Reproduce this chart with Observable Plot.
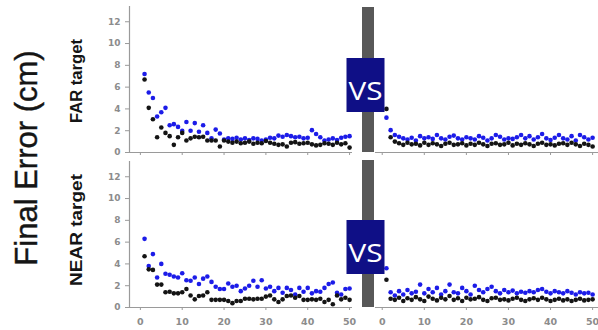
<!DOCTYPE html>
<html>
<head>
<meta charset="utf-8">
<script src="https://cdn.jsdelivr.net/npm/d3@7"></script>
<script src="https://cdn.jsdelivr.net/npm/@observablehq/plot@0.6"></script>
<style>
  html, body { margin: 0; padding: 0; background: #fff; }
  #chart { position: relative; width: 598px; height: 330px; overflow: hidden; background: #fff; }
  #chart > svg { position: absolute; }
  #overlay { position: absolute; left: 0; top: 0; pointer-events: none; }
</style>
</head>
<body>
<div id="chart"></div>
<script>
// Trial numbers 1..50
const trials = d3.range(1, 51);

// FAR target, before (left) — blue and black series
const farBeforeBlue = [7.2, 5.5, 5.0, 3.3, 3.7, 4.1, 2.5, 2.6, 2.35, 2.0,
  2.8, 2.0, 2.7, 1.9, 2.5, 1.8, 1.3, 2.1, 1.75, 1.2,
  1.3, 1.25, 1.35, 1.2, 1.3, 1.15, 1.3, 1.25, 1.1, 1.2,
  1.35, 1.3, 1.55, 1.45, 1.6, 1.5, 1.4, 1.45, 1.3, 1.35,
  2.05, 1.7, 1.4, 1.1, 1.2, 1.3, 1.15, 1.35, 1.45, 1.5];
const farBeforeBlack = [6.7, 4.1, 3.05, 1.4, 2.3, 1.8, 1.5, 0.7, 1.4, 1.8,
  1.1, 1.3, 1.45, 1.4, 1.45, 1.1, 1.1, 1.1, 0.55, 1.1,
  1.0, 0.9, 1.0, 0.85, 0.9, 1.0, 0.8, 0.9, 0.85, 1.05,
  0.9, 0.8, 0.7, 0.75, 0.55, 0.9, 0.95, 0.8, 0.85, 0.9,
  0.75, 0.65, 0.7, 0.85, 0.8, 0.7, 0.9, 0.75, 0.85, 0.45];

// FAR target, after (right)
const farAfterBlue = [3.2, 2.05, 1.6, 1.45, 1.3, 1.2, 1.35, 1.1, 1.5, 1.3,
  1.4, 1.25, 1.6, 1.3, 1.2, 1.45, 1.55, 1.3, 1.2, 1.4,
  1.3, 1.2, 1.5, 1.35, 1.1, 1.3, 1.6, 1.45, 1.2, 1.3,
  1.25, 1.4, 1.6, 1.3, 1.5, 1.2, 1.4, 1.7, 1.3, 1.15,
  1.35, 1.6, 1.3, 1.2, 1.5, 1.1, 1.6, 1.4, 1.2, 1.35];
const farAfterBlack = [4.0, 1.4, 1.0, 0.85, 0.7, 0.9, 0.75, 0.8, 0.65, 0.9,
  0.7, 0.85, 0.75, 0.6, 0.8, 0.9, 0.7, 0.75, 0.85, 0.65,
  0.8, 0.7, 0.9, 0.75, 0.6, 0.8, 0.85, 0.7, 0.75, 0.9,
  0.65, 0.8, 0.7, 0.85, 0.75, 0.6, 0.8, 0.9, 0.7, 0.75,
  0.65, 0.8, 0.85, 0.7, 0.9, 0.75, 0.6, 0.8, 0.7, 0.55];

// NEAR target, before (left)
const nearBeforeBlue = [6.3, 3.8, 4.9, 2.75, 4.0, 3.1, 3.0, 2.85, 2.75, 3.15,
  2.5, 2.45, 2.75, 2.15, 2.65, 2.85, 2.35, 1.9, 1.7, 1.7,
  2.2, 1.9, 2.0, 1.5, 1.75, 2.0, 2.45, 1.9, 2.5, 1.75,
  1.9, 1.5, 1.8, 1.35, 1.8, 1.6, 1.2, 1.8, 1.45, 1.8,
  1.3, 1.5, 1.45, 1.8, 2.15, 2.3, 1.35, 1.2, 1.7, 1.75];
const nearBeforeBlack = [4.7, 3.5, 3.45, 2.1, 2.1, 1.4, 1.45, 1.3, 1.3, 1.4,
  1.7, 1.1, 0.75, 1.05, 1.1, 1.4, 0.7, 0.7, 0.7, 0.7,
  0.6, 0.4, 0.6, 0.6, 0.8, 0.8, 0.75, 0.8, 0.8, 1.0,
  1.1, 0.75, 0.5, 0.75, 1.05, 1.1, 0.9, 1.05, 0.7, 0.7,
  0.75, 0.7, 0.8, 0.5, 0.7, 0.3, 1.1, 0.75, 0.9, 0.7];

// NEAR target, after (right)
const nearAfterBlue = [3.6, 1.4, 1.1, 1.5, 1.2, 1.6, 1.3, 1.45, 2.1, 1.3,
  1.7, 1.4, 1.8, 1.2, 1.5, 2.1, 1.4, 1.3, 1.8, 1.5,
  1.2, 2.0, 1.6, 1.4, 1.7, 1.9, 1.5, 1.3, 1.6, 1.4,
  1.55, 1.3, 1.45, 1.35, 1.5, 1.4, 1.6, 1.7, 1.45, 1.3,
  1.5, 1.4, 1.3, 1.5, 1.35, 1.2, 1.4, 1.3, 1.35, 1.2];
const nearAfterBlack = [2.55, 0.8, 0.7, 0.9, 0.6, 0.85, 0.7, 0.95, 0.75, 0.6,
  1.0, 0.8, 0.65, 0.9, 0.75, 1.05, 0.7, 0.85, 0.6, 0.9,
  0.75, 0.8, 0.95, 0.7, 0.6, 0.85, 0.9, 0.7, 0.75, 0.65,
  0.8, 0.9, 0.7, 0.6, 0.75, 0.85, 0.7, 0.9, 0.75, 0.6,
  0.7, 0.8, 0.65, 0.75, 0.6, 0.7, 0.8, 0.65, 0.7, 0.75];

// Axis ticks and labels
const xTicks = [0, 10, 20, 30, 40, 50];
const yTicks = [0, 2, 4, 6, 8, 10, 12];
const rowLabels = ["FAR target", "NEAR target"];
const yTitle = "Final Error (cm)";
const vsLabel = "VS";

const BLUE = "#1c1ce8";
const BLACK = "#141414";
const AXIS = "#9a9a9a";
const TICK_TEXT = "#8c8c8c";
const tickFont = "DejaVu Sans, sans-serif";

const chart = document.getElementById("chart");

function rows(blue, black) {
  return {
    blue: trials.map((t, i) => ({trial: t, err: blue[i]})),
    black: trials.map((t, i) => ({trial: t, err: black[i]}))
  };
}

// One scatter panel; side = "left" | "right", bottom = show x tick labels
function panel({blue, black, side, bottom, top}) {
  const d = rows(blue, black);
  const left = side === "left";
  const xDomain = left ? [-2.6, 50.7] : [-1.6, 51.4];
  const width = left ? 360 : 238;
  const marks = [
    Plot.ruleY([0], {x1: xDomain[0], x2: xDomain[1], stroke: AXIS, strokeWidth: 1.2}),
    Plot.axisX({
      ticks: xTicks, tickSize: 3, tickPadding: 8, stroke: AXIS, label: null,
      tickFormat: bottom ? (v) => String(v) : () => "",
      fill: TICK_TEXT, fontSize: 9.5, fontWeight: "bold", fontFamily: tickFont
    })
  ];
  if (left) {
    marks.push(
      Plot.ruleX([xDomain[0]], {y1: 0, y2: 13.4, stroke: AXIS, strokeWidth: 1.2}),
      Plot.axisY({
        ticks: yTicks, tickSize: 4, tickPadding: 5, stroke: AXIS, label: null,
        fill: TICK_TEXT, fontSize: 9, fontWeight: "bold", fontFamily: tickFont
      })
    );
  }
  marks.push(
    Plot.dot(d.blue, {x: "trial", y: "err", r: 2.3, fill: BLUE, stroke: "none"}),
    Plot.dot(d.black, {x: "trial", y: "err", r: 2.3, fill: BLACK, stroke: "none"})
  );
  const svg = Plot.plot({
    width,
    height: bottom ? 175 : 158,
    marginLeft: left ? 129 : 15,
    marginRight: left ? 8 : 0,
    marginTop: 6,
    marginBottom: bottom ? 23 : 6,
    x: {domain: xDomain, axis: null},
    y: {domain: [0, 13.4], axis: null},
    style: {background: "transparent", overflow: "visible"},
    marks
  });
  svg.style.left = (left ? 0 : 360) + "px";
  svg.style.top = top + "px";
  chart.appendChild(svg);
}

panel({blue: farBeforeBlue, black: farBeforeBlack, side: "left", bottom: false, top: 0});
panel({blue: farAfterBlue, black: farAfterBlack, side: "right", bottom: false, top: 0});
panel({blue: nearBeforeBlue, black: nearBeforeBlack, side: "left", bottom: true, top: 155});
panel({blue: nearAfterBlue, black: nearAfterBlack, side: "right", bottom: true, top: 155});

// Titles, divider bars and "VS" badges drawn on top
const ns = "http://www.w3.org/2000/svg";
const overlay = d3.select(chart).append("svg")
  .attr("id", "overlay")
  .attr("xmlns", ns)
  .attr("width", 598).attr("height", 330);

overlay.append("text")
  .attr("transform", "translate(37,158) rotate(-90)")
  .attr("text-anchor", "middle")
  .attr("font-family", "Liberation Sans, Arial, sans-serif")
  .attr("font-size", 31)
  .attr("fill", "#151515")
  .attr("stroke", "#151515")
  .attr("stroke-width", 0.4)
  .text(yTitle);

[[82, 81, 84], [82, 230, 112]].forEach(([x, y, len], i) => {
  overlay.append("text")
    .attr("transform", `translate(${x},${y}) rotate(-90)`)
    .attr("text-anchor", "middle")
    .attr("font-family", "Liberation Sans, Arial, sans-serif")
    .attr("font-weight", "bold")
    .attr("font-size", 17)
    .attr("textLength", len)
    .attr("lengthAdjust", "spacingAndGlyphs")
    .attr("fill", "#151515")
    .text(rowLabels[i]);
});

// vertical separators between before/after
[[7, 152], [160, 307]].forEach(([y0, y1]) => {
  overlay.append("rect")
    .attr("x", 362).attr("y", y0).attr("width", 12).attr("height", y1 - y0)
    .attr("fill", "#585858");
});

// "VS" badges
[[58, 54, 100], [220, 54, 262]].forEach(([y, h, base]) => {
  overlay.append("rect")
    .attr("x", 346.5).attr("y", y).attr("width", 38).attr("height", h)
    .attr("fill", "#0f0f86");
  overlay.append("text")
    .attr("x", 365.5).attr("y", base)
    .attr("text-anchor", "middle")
    .attr("font-family", "Open Sans, sans-serif")
    .attr("font-size", 25)
    .attr("textLength", 34)
    .attr("lengthAdjust", "spacingAndGlyphs")
    .attr("fill", "#ffffff")
    .text(vsLabel);
});
</script>
</body>
</html>
